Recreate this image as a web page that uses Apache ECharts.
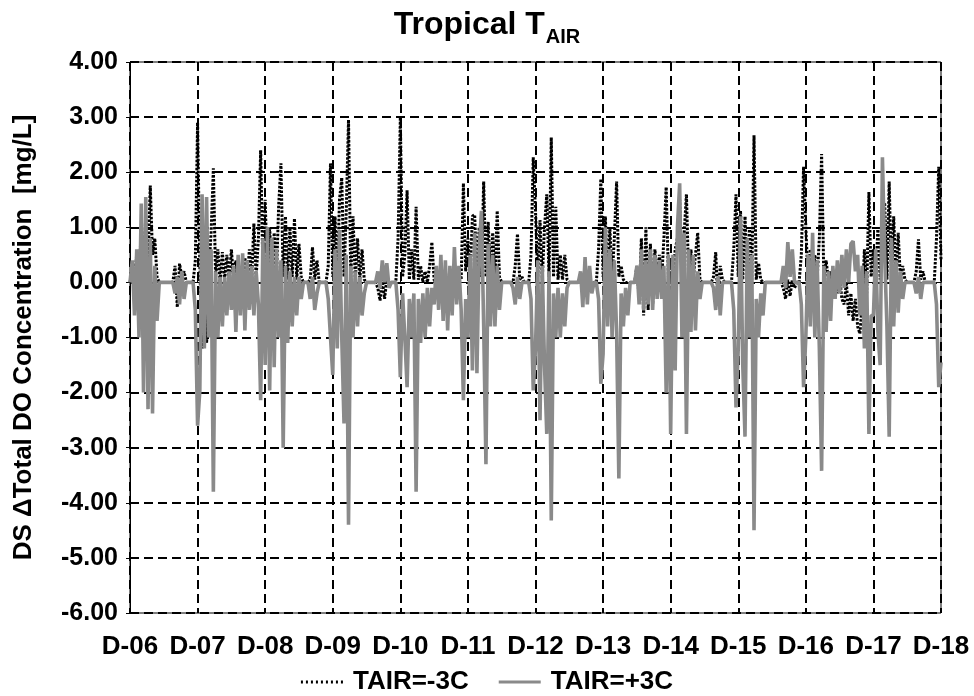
<!DOCTYPE html>
<html>
<head>
<meta charset="utf-8">
<script src="https://cdn.jsdelivr.net/npm/echarts@6/dist/echarts.min.js"></script>
<style>html,body{margin:0;padding:0;background:#fff;}#chart{width:974px;height:696px;}</style>
</head>
<body>
<div id="chart"></div>
<script>
// x-axis tick labels (one per year boundary)
const tickLabels = ['D-06','D-07','D-08','D-09','D-10','D-11','D-12','D-13','D-14','D-15','D-16','D-17','D-18'];
const stepsPerTick = 30;

// TAIR=-3C (dotted black), 30 samples per tick interval
const minus3 = [
  0,0.2,0.1,0.5,0.2,0.9,0.3,1.2,0.4,1.76,0.5,0.8,0.1,0,0,0,0,0,0,0,0.3,-0.45,0.34,0.1,0.2,0,0,0,0,0.4,
  2.9,0.3,-1.2,0.6,-1.1,0.2,0.9,2.07,0.1,0.6,0,0.55,0.05,0.5,0,0.6,0.05,0.4,0,0.3,0.05,0.45,0,0.6,0.05,1.07,0.1,0.8,2.4,0.2,
  1.5,0.1,1.0,0.05,0.9,0.1,1.4,2.16,0.1,1.2,0.05,1.0,0.1,1.16,0.05,0.7,0.1,0,0,0,0.05,0.64,0.05,0.4,0,0,0,0,0.3,2.16,
  0.1,1.2,0.05,1.5,1.9,0.1,1.3,2.95,0.1,1.2,0.05,0.8,0.05,0.6,0.05,0,0,0,0,0,-0.1,-0.33,0.05,-0.3,0.05,0,0,0,0,0.8,
  3.0,0.1,0.5,1.67,0.05,0.6,0.05,1.37,0.05,0.3,0,0.2,0,0.3,0.73,0.05,-0.1,-0.27,0.1,-0.2,0.2,-0.25,0.1,0.05,0.3,0.05,0.2,0.05,1.8,0.2,
  0.8,0.1,1.2,1.23,0.1,1.0,0.1,1.83,0.1,1.1,0.05,0.9,0.05,1.3,0.1,0,0,0,0,0,0,0.3,0.88,0.05,0.1,0,0,0,0.5,2.27,
  1.3,0.1,1.13,0.05,1.0,1.6,0.1,2.63,0.1,1.37,0.05,0.5,0.05,0.5,0.05,0,0,0,0,0,0,0,0.1,0,0,0,0,0,0.6,1.88,
  0.1,1.2,0.05,1.0,0.05,0.8,1.83,0.1,0.3,0.05,0,0,0,0,0,0.3,-0.3,0.8,-0.6,1.0,-0.5,0.7,-0.4,0.6,0.05,0.5,0.05,0.8,1.73,0.1,
  0.4,0.05,0.6,0.8,1.5,0.05,0.9,1.6,0.05,0.6,0.05,0.5,0.9,0.05,0,0,0,0,0,0.1,0.55,-0.4,0.3,0.05,0,0,0,0,0.6,1.6,
  0.1,1.3,0.05,1.2,0.1,1.0,0.05,2.67,0.05,0.35,0.05,0,0,0,0,0,0,0,0,0,-0.1,-0.3,0.05,-0.25,0.05,-0.1,0,0,0.5,2.1,
  1.0,0.05,0.6,0.05,0.5,0.05,0.8,2.33,0.05,0.4,0.05,0.2,-0.3,0.1,-0.2,0.1,-0.3,-0.4,0,-0.6,-0.2,-0.7,-0.3,-0.8,-0.93,-0.4,0.6,-0.2,1.64,0.1,
  0.6,0.05,1.0,0.05,1.2,1.45,0.05,1.83,0.1,1.2,0.05,0.9,0.05,0.3,0.05,0,0,0,0,0.2,0.78,0.05,0.2,0,0,0,0,0,0.8,2.1,0.4
];

// TAIR=+3C (solid grey)
const plus3 = [
  0,0.4,-0.6,0.6,-1.0,1.43,-2.0,1.55,-2.3,0.8,-2.38,0.3,-0.7,0,0,0,0,0,0,0,-0.2,0.1,-0.4,0.2,-0.3,0,0,0,0,-0.5,
  -2.6,-1.96,1.6,-1.2,1.55,-1.0,0.6,-3.8,0.2,-1.0,0.1,-0.8,0.1,-0.6,0.2,-0.5,0.3,-0.9,0.5,-0.6,0.53,-0.87,0.4,-0.5,0.3,-0.6,0.2,-0.4,-2.14,0.8,
  -1.5,1.0,-1.96,0.8,-1.54,0.6,-1.0,0.4,-3.0,0.3,-1.1,0.2,-0.8,0.1,-0.6,0.1,-0.3,0,0,0,-0.3,0.1,-0.5,-0.2,0,0,0,0,-0.3,-1.0,
  -1.68,0.6,-1.2,0.95,-1.0,-2.56,0.5,-4.4,0.3,-1.0,0.2,-0.8,0.1,-0.6,-0.2,0,0,0,0,0,0.2,-0.1,0.4,0,0.35,-0.1,0,0,0,-0.5,
  -1.72,-0.2,-1.0,-1.9,-0.3,-1.0,-0.2,-3.8,-0.3,-1.1,-0.2,-1.0,-0.1,-0.8,-0.1,-0.4,0.3,-0.5,0.5,-0.7,0.4,-0.87,0.3,-0.6,0.64,-0.4,0.3,-0.5,-2.14,-0.3,
  -1.0,0.5,-1.6,0.9,-1.65,0.6,1.3,-0.8,-3.3,0.7,-0.8,0.5,-0.8,0.3,-0.5,0,0,0,0,0,-0.1,-0.4,0.1,-0.3,0,0,0,0,-0.3,-1.96,
  -1.2,0.4,-2.5,0.3,-1.5,-2.75,0.2,-4.32,-0.2,-1.0,-0.1,-1.0,-0.2,-0.8,-0.1,0,0,0,0,0,0.2,-0.45,0.46,-0.4,0.3,-0.2,0,0,-0.3,-1.84,
  -1.3,1.0,-0.8,0.6,-1.0,0.4,-0.9,-3.56,-0.2,-0.8,-0.1,-0.6,0,0,0,0.3,-0.4,0.6,-0.5,0.4,-0.4,0.6,-0.5,0.5,-0.3,0.4,-0.3,0.3,-2.0,0.5,
  -2.75,0.5,-1.6,1.0,1.8,-1.0,0.9,-2.75,0.6,-0.9,0.5,-0.87,0.2,-0.3,0,0,0,0,0,-0.1,-0.5,0.1,-0.6,0,0,0,0,0,-0.5,-2.27,
  -1.2,1.2,-1.5,-2.8,0.8,-1.0,0.5,-4.5,-0.3,-1.0,-0.2,-0.6,0,0,0,0,0,0,0,0,0.3,-0.1,0.73,0.1,0.6,0,0,0,-0.4,-1.9,
  -1.0,0.5,-0.8,0.9,-1.0,0.4,-1.2,-3.42,0.3,-0.9,0.2,-0.7,0.3,-0.3,0.4,-0.2,0.5,-0.1,0.6,0,0.7,0.75,0.2,0.5,-0.6,0.3,-1.2,0.2,-2.75,-0.6,
  -0.6,0.6,-0.9,-1.5,2.27,0.5,-0.8,-2.8,0.8,-0.8,0.4,-0.55,0.2,-0.3,0,0,0,0,0,-0.2,0.1,-0.3,0,0,0,0,0,0,-0.4,-1.9,-1.45
];

const seriesNames = ['TAIR=-3C', 'TAIR=+3C'];

const categories = minus3.map((_, i) => (i % stepsPerTick === 0 ? tickLabels[i / stepsPerTick] : ''));
const onTick = (i) => i % stepsPerTick === 0;

const FONT = '"Liberation Sans", Arial, sans-serif';
const BLACK = '#000';
const GREY = '#8a8a8a';

const dottedIcon = 'path://M0,0h2v3h-2z M5,0h2v3h-2z M10,0h2v3h-2z M15,0h2v3h-2z M20,0h2v3h-2z M25,0h2v3h-2z M30,0h2v3h-2z M35,0h2v3h-2z M40,0h2v3h-2z';
const solidIcon = 'path://M0,0h42v3h-42z';

const chart = echarts.init(document.getElementById('chart'), null, { renderer: 'canvas' });
chart.setOption({
  animation: false,
  backgroundColor: '#fff',
  title: {
    text: '{a|Tropical T}{b|AIR}',
    left: 'center',
    top: 4,
    textStyle: {
      rich: {
        a: { fontFamily: FONT, fontWeight: 'bold', fontSize: 32, color: '#000', verticalAlign: 'top', lineHeight: 36 },
        b: { fontFamily: FONT, fontWeight: 'bold', fontSize: 20, color: '#000', verticalAlign: 'top', padding: [18, 0, 0, 1] }
      }
    }
  },
  grid: { left: 130, right: 33, top: 62, bottom: 83, show: true, borderColor: '#000', borderWidth: 1, backgroundColor: 'transparent' },
  legend: {
    top: 664,
    left: 'center',
    itemWidth: 42,
    itemHeight: 3,
    itemGap: 30,
    itemStyle: { borderWidth: 0 },
    textStyle: { fontFamily: FONT, fontWeight: 'bold', fontSize: 26, color: '#000', padding: [0, 0, 0, 5] },
    data: [
      { name: seriesNames[0], icon: dottedIcon },
      { name: seriesNames[1], icon: solidIcon }
    ]
  },
  xAxis: {
    type: 'category',
    data: categories,
    boundaryGap: false,
    axisLine: { lineStyle: { color: '#000', width: 1 } },
    axisTick: { show: true, inside: true, length: 5, interval: onTick, lineStyle: { color: '#000' } },
    axisLabel: { interval: onTick, margin: 21, color: '#000', fontFamily: FONT, fontWeight: 'bold', fontSize: 26 },
    splitLine: { show: true, interval: onTick, lineStyle: { color: '#000', width: 2, type: [9, 5] } }
  },
  yAxis: {
    type: 'value',
    min: -6,
    max: 4,
    interval: 1,
    name: 'DS \u0394Total DO Concentration  [mg/L]',
    nameLocation: 'middle',
    nameGap: 93,
    nameTextStyle: { fontFamily: FONT, fontWeight: 'bold', fontSize: 26, color: '#000' },
    axisLine: { show: true, lineStyle: { color: '#000', width: 1 } },
    axisTick: { show: true, length: 4, lineStyle: { color: '#000' } },
    axisLabel: { margin: 12, color: '#000', fontFamily: FONT, fontWeight: 'bold', fontSize: 25, formatter: (v) => v.toFixed(2) },
    splitLine: { show: true, lineStyle: { color: '#000', width: 2, type: [9, 5] } }
  },
  series: [
    {
      name: seriesNames[0],
      type: 'line',
      data: minus3,
      symbol: 'none',
      lineStyle: { color: BLACK, width: 3, type: [2.5, 1.5], join: 'bevel' },
      itemStyle: { color: BLACK },
      z: 2
    },
    {
      name: seriesNames[1],
      type: 'line',
      data: plus3,
      symbol: 'none',
      lineStyle: { color: GREY, width: 3.6, type: 'solid', join: 'bevel' },
      itemStyle: { color: GREY },
      z: 3
    }
  ]
});
</script>
</body>
</html>
